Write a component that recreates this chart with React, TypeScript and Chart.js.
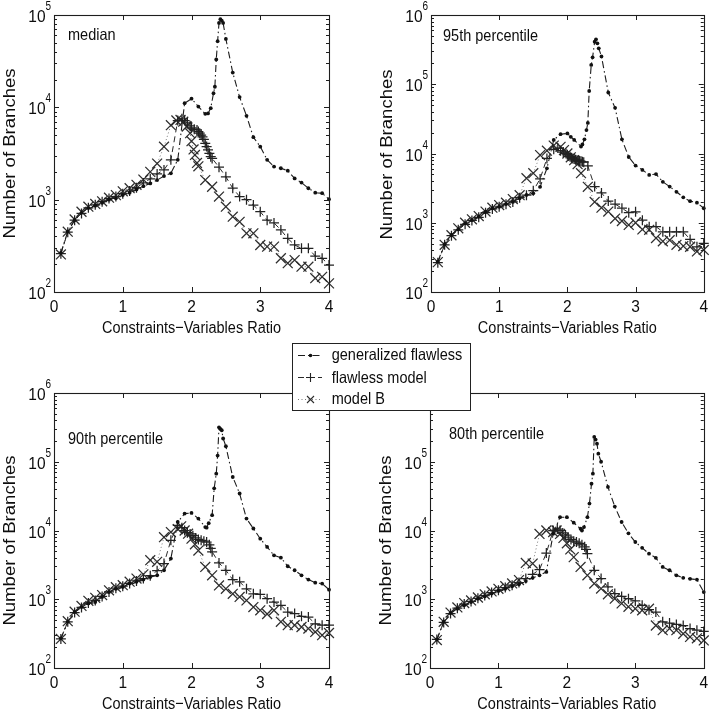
import React, { useEffect, useRef } from 'react';
import { Chart, registerables } from 'chart.js';

Chart.register(...registerables);

type Pair = [number, number];

// ---------- data: [constraints-variables ratio, number of branches] ----------

const medianGeneralized: Pair[] = [
  [0.1, 265], [0.2, 450], [0.3, 600], [0.4, 720], [0.5, 810], [0.6, 860], [0.7, 925], [0.8, 1000],
  [0.9, 1035], [1.0, 1120], [1.1, 1190], [1.2, 1290], [1.3, 1400], [1.4, 1500], [1.5, 1630], [1.6, 1800],
  [1.7, 1930], [1.8, 2700], [1.9, 11100], [2.0, 12400], [2.1, 10200], [2.2, 8500], [2.24, 8600], [2.28, 9800],
  [2.32, 14200], [2.34, 16700], [2.36, 33000], [2.38, 52000], [2.4, 82000], [2.42, 90000], [2.44, 87000],
  [2.46, 82000], [2.5, 55000], [2.6, 23800], [2.7, 12900], [2.8, 8100], [2.9, 4750], [3.0, 3750], [3.1, 2700],
  [3.2, 2280], [3.3, 2190], [3.4, 2060], [3.5, 1700], [3.6, 1530], [3.7, 1330], [3.8, 1190], [3.9, 1175], [4.0, 1010],
];
const medianFlawless: Pair[] = [
  [0.1, 260], [0.2, 445], [0.3, 600], [0.4, 710], [0.5, 815], [0.6, 880], [0.7, 950], [0.8, 1030],
  [0.9, 1080], [1.0, 1160], [1.1, 1240], [1.2, 1350], [1.3, 1520], [1.4, 1680], [1.5, 1900], [1.6, 2100],
  [1.7, 2700], [1.8, 7200], [1.86, 7500], [1.9, 7200], [1.94, 6800], [1.98, 6300], [2.0, 6000], [2.04, 5800],
  [2.08, 5690], [2.1, 5460], [2.12, 5250], [2.14, 5010], [2.16, 4790], [2.18, 4500], [2.2, 4070], [2.22, 3760],
  [2.24, 3470], [2.26, 3180], [2.28, 2920], [2.3, 2800], [2.4, 2250], [2.5, 1770], [2.6, 1330], [2.7, 1080],
  [2.8, 1000], [2.9, 875], [3.0, 740], [3.1, 600], [3.2, 560], [3.3, 470], [3.4, 380], [3.5, 323], [3.6, 297],
  [3.7, 297], [3.8, 245], [3.9, 232], [4.0, 196],
];
const medianModelB: Pair[] = [
  [0.1, 255], [0.2, 450], [0.3, 610], [0.4, 740], [0.5, 840], [0.6, 900], [0.7, 960], [0.8, 1050],
  [0.9, 1120], [1.0, 1230], [1.1, 1330], [1.2, 1450], [1.3, 1650], [1.4, 2000], [1.5, 2460], [1.6, 3750],
  [1.7, 6400], [1.78, 7200], [1.84, 7300], [1.88, 7000], [1.93, 6200], [1.98, 5250], [2.0, 4300], [2.03, 3500],
  [2.05, 3050], [2.08, 2500], [2.1, 2300], [2.2, 1630], [2.3, 1380], [2.4, 1080], [2.5, 840], [2.6, 655],
  [2.7, 575], [2.8, 432], [2.9, 432], [3.0, 323], [3.1, 310], [3.2, 310], [3.3, 232], [3.4, 205], [3.5, 222],
  [3.6, 188], [3.7, 188], [3.8, 141], [3.9, 146], [4.0, 124],
];

const p95Generalized: Pair[] = [
  [0.1, 275], [0.2, 490], [0.3, 665], [0.4, 800], [0.5, 980], [0.6, 1090], [0.7, 1220], [0.8, 1430],
  [0.9, 1610], [1.0, 1700], [1.1, 1860], [1.2, 2000], [1.3, 2250], [1.4, 2520], [1.5, 2660], [1.6, 3300],
  [1.7, 6100], [1.8, 15700], [1.9, 19000], [2.0, 19500], [2.05, 17400], [2.1, 15700], [2.2, 12600],
  [2.22, 13500], [2.25, 16000], [2.28, 21800], [2.3, 27600], [2.32, 80000], [2.35, 190000], [2.37, 245000],
  [2.4, 412000], [2.42, 445000], [2.44, 390000], [2.46, 330000], [2.5, 252000], [2.6, 76000], [2.7, 45600],
  [2.8, 16000], [2.9, 8900], [3.0, 6700], [3.1, 5800], [3.2, 4900], [3.3, 5050], [3.4, 3900], [3.5, 3330],
  [3.6, 2800], [3.7, 2330], [3.8, 2050], [3.9, 1950], [4.0, 1620],
];
const p95Flawless: Pair[] = [
  [0.1, 265], [0.2, 480], [0.3, 650], [0.4, 790], [0.5, 950], [0.6, 1080], [0.7, 1200], [0.8, 1400],
  [0.9, 1580], [1.0, 1700], [1.1, 1850], [1.2, 2000], [1.3, 2300], [1.4, 2500], [1.5, 2900], [1.6, 4300],
  [1.7, 8500], [1.8, 11500], [1.86, 12000], [1.9, 11000], [1.94, 10500], [1.98, 10000], [2.0, 9600],
  [2.02, 9200], [2.04, 9000], [2.06, 8700], [2.08, 8500], [2.1, 8300], [2.12, 8100], [2.14, 8000],
  [2.16, 7900], [2.18, 7800], [2.2, 7700], [2.22, 7600], [2.24, 7500], [2.3, 6600], [2.4, 3330], [2.5, 2700],
  [2.6, 2060], [2.7, 1860], [2.8, 1620], [2.9, 1400], [3.0, 1440], [3.1, 1090], [3.2, 877], [3.3, 877],
  [3.4, 740], [3.5, 740], [3.6, 740], [3.7, 740], [3.8, 575], [3.9, 450], [4.0, 505],
];
const p95ModelB: Pair[] = [
  [0.1, 270], [0.2, 480], [0.3, 660], [0.4, 830], [0.5, 1000], [0.6, 1120], [0.7, 1250], [0.8, 1450],
  [0.9, 1650], [1.0, 1800], [1.1, 1950], [1.2, 2200], [1.3, 2500], [1.4, 4400], [1.5, 5200], [1.6, 9500],
  [1.7, 11000], [1.8, 13000], [1.9, 12500], [1.95, 11200], [2.0, 10000], [2.05, 8800], [2.1, 8000],
  [2.15, 7000], [2.2, 5200], [2.3, 3300], [2.4, 2000], [2.5, 1650], [2.6, 1450], [2.7, 1150], [2.8, 1060],
  [2.9, 930], [3.0, 1000], [3.1, 800], [3.2, 790], [3.3, 600], [3.4, 540], [3.5, 560], [3.6, 480],
  [3.7, 460], [3.8, 450], [3.9, 385], [4.0, 405],
];

const p90Generalized: Pair[] = [
  [0.1, 270], [0.2, 470], [0.3, 650], [0.4, 770], [0.5, 870], [0.6, 910], [0.7, 1080], [0.8, 1270],
  [0.9, 1420], [1.0, 1510], [1.1, 1690], [1.2, 1790], [1.3, 1930], [1.4, 2100], [1.5, 2230], [1.6, 2640],
  [1.7, 3900], [1.8, 13300], [1.9, 17600], [2.0, 18000], [2.1, 14900], [2.2, 11200], [2.22, 11000],
  [2.25, 12800], [2.3, 16700], [2.33, 41000], [2.36, 67000], [2.38, 123000], [2.4, 317000], [2.42, 300000],
  [2.44, 287000], [2.46, 218000], [2.5, 168000], [2.6, 60000], [2.7, 34500], [2.8, 14900], [2.9, 10700],
  [3.0, 7600], [3.1, 5760], [3.2, 4350], [3.3, 4030], [3.4, 3020], [3.5, 2640], [3.6, 2230], [3.7, 1930],
  [3.8, 1740], [3.9, 1690], [4.0, 1380],
];
const p90Flawless: Pair[] = [
  [0.1, 265], [0.2, 470], [0.3, 640], [0.4, 760], [0.5, 880], [0.6, 960], [0.7, 1100], [0.8, 1280],
  [0.9, 1450], [1.0, 1550], [1.1, 1700], [1.2, 1850], [1.3, 2000], [1.4, 2200], [1.5, 2600], [1.6, 3300],
  [1.7, 7200], [1.8, 11900], [1.86, 11000], [1.9, 10000], [1.94, 9300], [1.98, 8900], [2.02, 8400],
  [2.06, 7800], [2.1, 7400], [2.14, 7200], [2.18, 7000], [2.22, 6800], [2.26, 6200], [2.28, 5500],
  [2.3, 4900], [2.4, 3380], [2.5, 2640], [2.6, 1930], [2.7, 1790], [2.8, 1420], [2.9, 1200], [3.0, 1180],
  [3.1, 1020], [3.2, 910], [3.3, 815], [3.4, 650], [3.5, 620], [3.6, 565], [3.7, 550], [3.8, 440],
  [3.9, 420], [4.0, 420],
];
const p90ModelB: Pair[] = [
  [0.1, 265], [0.2, 480], [0.3, 660], [0.4, 800], [0.5, 950], [0.6, 1050], [0.7, 1150], [0.8, 1350],
  [0.9, 1500], [1.0, 1600], [1.1, 1800], [1.2, 2000], [1.3, 2300], [1.4, 3700], [1.5, 3500], [1.6, 8000],
  [1.7, 9500], [1.8, 10500], [1.85, 11500], [1.9, 10000], [1.95, 9000], [2.0, 7600], [2.05, 6300],
  [2.1, 5100], [2.2, 2950], [2.3, 2230], [2.4, 1590], [2.5, 1420], [2.6, 1200], [2.7, 1080], [2.8, 960],
  [2.9, 770], [3.0, 690], [3.1, 610], [3.2, 690], [3.3, 470], [3.4, 420], [3.5, 420], [3.6, 395],
  [3.7, 375], [3.8, 335], [3.9, 300], [4.0, 323],
];

const p80Generalized: Pair[] = [
  [0.1, 260], [0.2, 470], [0.3, 630], [0.4, 730], [0.5, 815], [0.6, 910], [0.7, 1020], [0.8, 1100],
  [0.9, 1210], [1.0, 1320], [1.1, 1420], [1.2, 1540], [1.3, 1650], [1.4, 1840], [1.5, 2050], [1.6, 2230],
  [1.7, 2500], [1.8, 9000], [1.9, 15600], [2.0, 15600], [2.1, 13000], [2.2, 10600], [2.22, 10000],
  [2.25, 11200], [2.3, 15600], [2.33, 24600], [2.36, 48000], [2.38, 67000], [2.4, 230000], [2.42, 210000],
  [2.44, 183000], [2.46, 131000], [2.5, 100000], [2.6, 43000], [2.7, 22300], [2.8, 13300], [2.9, 9100],
  [3.0, 6800], [3.1, 5600], [3.2, 4600], [3.3, 4000], [3.4, 2950], [3.5, 2640], [3.6, 2230], [3.7, 2050],
  [3.8, 1980], [3.9, 1930], [4.0, 1270],
];
const p80Flawless: Pair[] = [
  [0.1, 260], [0.2, 460], [0.3, 620], [0.4, 740], [0.5, 850], [0.6, 930], [0.7, 1030], [0.8, 1130],
  [0.9, 1250], [1.0, 1350], [1.1, 1480], [1.2, 1600], [1.3, 1750], [1.4, 2000], [1.5, 2300], [1.6, 2700],
  [1.7, 4700], [1.8, 10000], [1.86, 10500], [1.9, 10000], [1.94, 9200], [1.98, 8600], [2.02, 8000],
  [2.06, 7400], [2.1, 7000], [2.14, 6800], [2.18, 6500], [2.22, 6200], [2.26, 5800], [2.28, 5300],
  [2.3, 4600], [2.4, 2640], [2.5, 2000], [2.6, 1510], [2.7, 1210], [2.8, 1100], [2.9, 1020], [3.0, 945],
  [3.1, 815], [3.2, 705], [3.3, 650], [3.4, 470], [3.5, 450], [3.6, 430], [3.7, 415], [3.8, 375],
  [3.9, 355], [4.0, 340],
];
const p80ModelB: Pair[] = [
  [0.1, 255], [0.2, 470], [0.3, 640], [0.4, 760], [0.5, 880], [0.6, 960], [0.7, 1060], [0.8, 1180],
  [0.9, 1300], [1.0, 1420], [1.1, 1550], [1.2, 1700], [1.3, 1900], [1.4, 3380], [1.5, 3300], [1.6, 8900],
  [1.7, 10000], [1.8, 9500], [1.85, 10000], [1.9, 8900], [1.95, 7800], [2.0, 6500], [2.05, 5300],
  [2.1, 4100], [2.2, 2950], [2.3, 2230], [2.4, 1690], [2.5, 1430], [2.6, 1180], [2.7, 1020], [2.8, 870],
  [2.9, 775], [3.0, 730], [3.1, 690], [3.2, 730], [3.3, 415], [3.4, 355], [3.5, 375], [3.6, 355],
  [3.7, 315], [3.8, 283], [3.9, 270], [4.0, 252],
];

const SERIES_NAMES = ['generalized flawless', 'flawless model', 'model B'];
const PANEL_TITLES = ['median', '95th percentile', '90th percentile', '80th percentile'];
const PANEL_SERIES: Pair[][][] = [
  [medianGeneralized, medianFlawless, medianModelB],
  [p95Generalized, p95Flawless, p95ModelB],
  [p90Generalized, p90Flawless, p90ModelB],
  [p80Generalized, p80Flawless, p80ModelB],
];
const Y_MIN_EXP = 2;
const PANEL_Y_MAX_EXP = [5, 6, 6, 6];
const X_TICKS = [0, 1, 2, 3, 4];
const X_TITLE = 'Constraints\u2212Variables Ratio';
const Y_TITLE = 'Number of Branches';

// ---------- layout & styling ----------

const FONT = '"Liberation Sans", Arial, Helvetica, sans-serif';
const INK = '#0d0d0d';

const PANEL_BOXES = [
  { left: 0, top: 0, width: 356, height: 340, pad: { left: 54, right: 27, top: 15, bottom: 48 }, titleDx: 14, titleDy: 25, yTitleShift: 0 },
  { left: 356, top: 0, width: 356, height: 340, pad: { left: 75, right: 7, top: 15, bottom: 48 }, titleDx: 12, titleDy: 25.5, yTitleShift: 1 },
  { left: 0, top: 340, width: 356, height: 372, pad: { left: 54, right: 27, top: 53, bottom: 44 }, titleDx: 14, titleDy: 51, yTitleShift: 10 },
  { left: 356, top: 340, width: 356, height: 372, pad: { left: 74, right: 7, top: 53, bottom: 44 }, titleDx: 19, titleDy: 46, yTitleShift: 10 },
];

const SERIES_STYLES = [
  {
    borderColor: '#1c1c1c', borderWidth: 1.1, borderDash: [7, 3, 1.5, 3], pointStyle: 'circle', pointRadius: 1.9,
    pointBackgroundColor: '#111', pointBorderColor: '#111', pointBorderWidth: 0,
  },
  {
    borderColor: '#2a2a2a', borderWidth: 1, borderDash: [6, 4], pointStyle: 'cross', pointRadius: 5,
    pointBackgroundColor: '#222', pointBorderColor: '#222', pointBorderWidth: 1.25,
  },
  {
    borderColor: '#777', borderWidth: 1, borderDash: [1, 2.5], pointStyle: 'crossRot', pointRadius: 7,
    pointBackgroundColor: '#2e2e2e', pointBorderColor: '#2e2e2e', pointBorderWidth: 1.25,
  },
];

// Text drawn with a slight vertical stretch, like the condensed Helvetica of the figure.
function drawText(
  ctx: CanvasRenderingContext2D, text: string, x: number, y: number,
  size: number, sy: number, align: CanvasTextAlign,
) {
  ctx.save();
  ctx.translate(x, y);
  ctx.scale(1, sy);
  ctx.font = `${size}px ${FONT}`;
  ctx.textAlign = align;
  ctx.textBaseline = 'alphabetic';
  ctx.fillStyle = INK;
  ctx.fillText(text, 0, 0);
  ctx.restore();
}

function makeFramePlugin(panelIndex: number) {
  return {
    id: 'matlabFrame',
    afterDraw(chart: any) {
      const ctx: CanvasRenderingContext2D = chart.ctx;
      const { left, right, top, bottom } = chart.chartArea;
      const xs = chart.scales.x;
      const ys = chart.scales.y;
      const box = PANEL_BOXES[panelIndex];
      const maxExp = PANEL_Y_MAX_EXP[panelIndex];

      ctx.save();
      ctx.strokeStyle = '#1e1e1e';
      ctx.lineWidth = 1.1;
      ctx.strokeRect(Math.round(left) + 0.5, Math.round(top) + 0.5, Math.round(right - left), Math.round(bottom - top));

      ctx.lineWidth = 1;
      ctx.beginPath();
      // x ticks, inward on bottom and top
      for (const v of X_TICKS) {
        const px = Math.round(xs.getPixelForValue(v)) + 0.5;
        ctx.moveTo(px, bottom); ctx.lineTo(px, bottom - 5);
        ctx.moveTo(px, top); ctx.lineTo(px, top + 5);
      }
      // y ticks: decades and the minor 2..9 marks of a log axis
      for (let e = Y_MIN_EXP; e <= maxExp; e++) {
        const base = Math.pow(10, e);
        const py = Math.round(ys.getPixelForValue(base)) + 0.5;
        ctx.moveTo(left, py); ctx.lineTo(left + 5, py);
        ctx.moveTo(right, py); ctx.lineTo(right - 5, py);
        if (e < maxExp) {
          for (let m = 2; m <= 9; m++) {
            const my = Math.round(ys.getPixelForValue(m * base)) + 0.5;
            ctx.moveTo(left, my); ctx.lineTo(left + 3, my);
            ctx.moveTo(right, my); ctx.lineTo(right - 3, my);
          }
        }
      }
      ctx.stroke();

      // x tick labels
      for (const v of X_TICKS) {
        drawText(ctx, String(v), xs.getPixelForValue(v), bottom + 20, 15.5, 1.1, 'center');
      }
      // y tick labels: 10 with a raised exponent
      for (let e = Y_MIN_EXP; e <= maxExp; e++) {
        const py = ys.getPixelForValue(Math.pow(10, e));
        drawText(ctx, '10', left - 8.5, py + 7, 15.5, 1.1, 'right');
        drawText(ctx, String(e), left - 8.5, py - 5, 10, 1.2, 'left');
      }

      // axis titles
      drawText(ctx, X_TITLE, (left + right) / 2, bottom + 41, 14.5, 1.16, 'center');
      ctx.save();
      ctx.translate(left - 39, (top + bottom) / 2 + box.yTitleShift);
      ctx.rotate(-Math.PI / 2);
      ctx.scale(1.16, 1);
      ctx.font = `16px ${FONT}`;
      ctx.textAlign = 'center';
      ctx.textBaseline = 'alphabetic';
      ctx.fillStyle = INK;
      ctx.fillText(Y_TITLE, 0, 0);
      ctx.restore();

      // panel caption inside the axes
      drawText(ctx, PANEL_TITLES[panelIndex], left + box.titleDx, top + box.titleDy, 14.5, 1.08, 'left');
      ctx.restore();
    },
  };
}

function Panel({ index }: { index: number }) {
  const ref = useRef<HTMLCanvasElement>(null);
  const box = PANEL_BOXES[index];

  useEffect(() => {
    const canvas = ref.current;
    if (!canvas) return;
    const datasets = PANEL_SERIES[index].map((series, i) => ({
      label: SERIES_NAMES[i],
      data: series.map(([x, y]) => ({ x, y })),
      tension: 0,
      clip: false as const,
      ...SERIES_STYLES[i],
    }));
    const chart = new Chart(canvas, {
      type: 'line',
      data: { datasets: datasets as any },
      options: {
        animation: false,
        responsive: false,
        devicePixelRatio: 1,
        events: [],
        layout: { padding: box.pad },
        plugins: { legend: { display: false }, tooltip: { enabled: false } },
        scales: {
          x: { type: 'linear', min: 0, max: 4, display: false },
          y: { type: 'logarithmic', min: Math.pow(10, Y_MIN_EXP), max: Math.pow(10, PANEL_Y_MAX_EXP[index]), display: false },
        },
      },
      plugins: [makeFramePlugin(index)],
    });
    return () => chart.destroy();
  }, [index]);

  return (
    <canvas
      ref={ref}
      width={box.width}
      height={box.height}
      style={{ position: 'absolute', left: box.left, top: box.top, width: box.width, height: box.height }}
    />
  );
}

const LEGEND_BOX = { left: 292, top: 343, width: 179, height: 68 };

function Legend() {
  const ref = useRef<HTMLCanvasElement>(null);
  const w = LEGEND_BOX.width - 2;
  const h = LEGEND_BOX.height - 2;

  useEffect(() => {
    const canvas = ref.current;
    if (!canvas) return;
    const ctx = canvas.getContext('2d');
    if (!ctx) return;
    ctx.clearRect(0, 0, w, h);
    const rows = [
      { glyphY: 11.5, textY: 16 },
      { glyphY: 33.5, textY: 38.5 },
      { glyphY: 55.5, textY: 60 },
    ];
    SERIES_NAMES.forEach((name, i) => {
      const st = SERIES_STYLES[i];
      const gy = rows[i].glyphY;
      ctx.save();
      ctx.strokeStyle = st.borderColor;
      ctx.lineWidth = 1;
      ctx.setLineDash(st.borderDash);
      ctx.beginPath();
      ctx.moveTo(5, gy);
      ctx.lineTo(29, gy);
      ctx.stroke();
      ctx.setLineDash([]);
      const cx = 17.5;
      ctx.strokeStyle = st.pointBorderColor;
      ctx.fillStyle = st.pointBackgroundColor;
      ctx.lineWidth = 1.1;
      ctx.beginPath();
      if (st.pointStyle === 'circle') {
        ctx.arc(cx, gy, 1.8, 0, Math.PI * 2);
        ctx.fill();
      } else if (st.pointStyle === 'cross') {
        ctx.moveTo(cx - 4.5, gy); ctx.lineTo(cx + 4.5, gy);
        ctx.moveTo(cx, gy - 4.5); ctx.lineTo(cx, gy + 4.5);
        ctx.stroke();
      } else {
        ctx.moveTo(cx - 3.5, gy - 3.5); ctx.lineTo(cx + 3.5, gy + 3.5);
        ctx.moveTo(cx + 3.5, gy - 3.5); ctx.lineTo(cx - 3.5, gy + 3.5);
        ctx.stroke();
      }
      ctx.restore();
      drawText(ctx, name, 38.7, rows[i].textY, 14.5, 1.08, 'left');
    });
  }, []);

  return (
    <div
      style={{
        position: 'absolute', left: LEGEND_BOX.left, top: LEGEND_BOX.top,
        width: LEGEND_BOX.width, height: LEGEND_BOX.height, boxSizing: 'border-box',
        border: '1px solid #222', background: '#fff',
      }}
    >
      <canvas ref={ref} width={w} height={h} style={{ display: 'block', width: w, height: h }} />
    </div>
  );
}

export default function App() {
  return (
    <div style={{ position: 'absolute', left: 0, top: 0, width: 712, height: 712, background: '#fff', overflow: 'hidden' }}>
      {PANEL_BOXES.map((_, i) => (
        <Panel key={i} index={i} />
      ))}
      <Legend />
    </div>
  );
}
